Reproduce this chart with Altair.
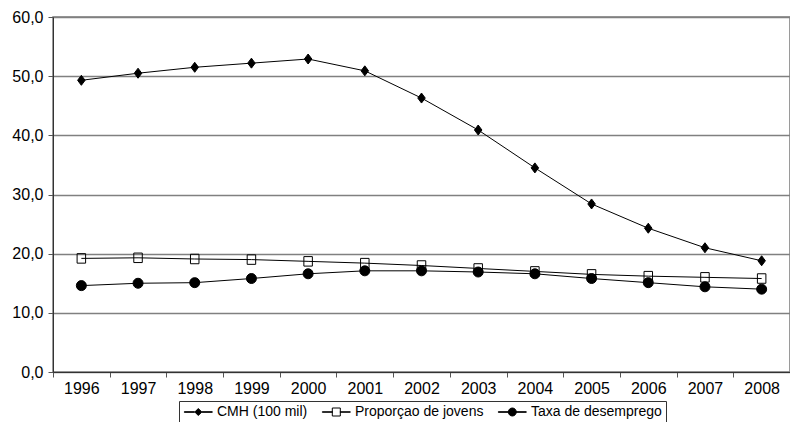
import altair as alt
import pandas as pd

years = ["1996", "1997", "1998", "1999", "2000", "2001", "2002", "2003", "2004", "2005", "2006", "2007", "2008"]
series_names = ["CMH (100 mil)", "Proporçao de jovens", "Taxa de desemprego"]
cmh = [49.3, 50.5, 51.5, 52.2, 52.9, 50.9, 46.3, 40.9, 34.5, 28.4, 24.3, 21.0, 18.8]
jovens = [19.2, 19.3, 19.1, 19.0, 18.7, 18.4, 18.0, 17.5, 17.0, 16.5, 16.2, 16.0, 15.8]
desemprego = [14.6, 15.0, 15.1, 15.8, 16.6, 17.1, 17.1, 16.9, 16.6, 15.8, 15.1, 14.4, 14.0]
y_ticks = [0, 10, 20, 30, 40, 50, 60]

rows = []
for name, vals in zip(series_names, [cmh, jovens, desemprego]):
    for yr, v in zip(years, vals):
        rows.append({"year": yr, "series": name, "value": v})
df = pd.DataFrame(rows)

FONT = "Liberation Sans"

marker_paths = [
    "M0,-1L0.75,0L0,1L-0.75,0Z",
    "M-0.85,-0.95L0.85,-0.95L0.85,0.95L-0.85,0.95Z",
    "circle",
]
marker_fills = ["black", "transparent", "black"]
marker_strokes = ["black", "black", "black"]

BAR_L = "M-1.14,-0.05L0.9,-0.05L0.9,0.05L-1.14,0.05Z"
BAR_R = "M2.42,-0.05L4.46,-0.05L4.46,0.05L2.42,0.05Z"
legend_paths = [
    BAR_L + BAR_R + "M1.66,-0.7L2.36,0L1.66,0.7L0.96,0Z",
    BAR_L + BAR_R + "M0.86,-0.8L2.46,-0.8L2.46,0.8L0.86,0.8Z",
    BAR_L + BAR_R + "M0.86,0A0.8,0.8 0 1,0 2.46,0A0.8,0.8 0 1,0 0.86,0Z",
]

x_enc = alt.X(
    "year:O",
    sort=years,
    title=None,
    scale=alt.Scale(type="band", paddingInner=0, paddingOuter=0),
    axis=alt.Axis(
        labelAngle=0,
        tickBand="extent",
        labelFont=FONT,
        labelFontSize=16,
        labelColor="black",
        labelPadding=3,
        tickSize=5,
        tickColor="#555555",
        domainColor="#333333",
        domainWidth=1,
        grid=False,
    ),
)
y_enc = alt.Y(
    "value:Q",
    title=None,
    scale=alt.Scale(domain=[0, 60], nice=False),
    axis=alt.Axis(
        values=y_ticks,
        labelExpr="replace(format(datum.value, '.1f'), '.', ',')",
        labelFont=FONT,
        labelFontSize=16,
        labelColor="black",
        labelPadding=5,
        tickSize=5,
        tickColor="#555555",
        domainColor="#333333",
        domainWidth=1,
        grid=True,
        gridColor="#808080",
        gridWidth=1.5,
    ),
)

lines = alt.Chart(df).mark_line(color="black", strokeWidth=1).encode(
    x=x_enc, y=y_enc, detail="series:N"
)

points = alt.Chart(df).mark_point(filled=True, stroke="black", strokeWidth=1, opacity=1).encode(
    x=x_enc,
    y=y_enc,
    shape=alt.Shape("series:N", scale=alt.Scale(domain=series_names, range=marker_paths), legend=None),
    fill=alt.Fill("series:N", scale=alt.Scale(domain=series_names, range=marker_fills), legend=None),
    size=alt.value(100),
)

leg = alt.Legend(
    title=None,
    orient="none",
    legendX=126,
    legendY=384,
    direction="horizontal",
    columns=3,
    symbolSize=100,
    symbolStrokeColor="black",
    symbolStrokeWidth=1,
    labelOffset=20,
    labelFont=FONT,
    labelFontSize=14,
    labelColor="black",
    columnPadding=12,
    padding=4,
    strokeColor="#333333",
    fillColor="white",
    labelLimit=300,
)

legend_layer = alt.Chart(df).transform_filter("false").transform_calculate(
    leg="datum.series"
).mark_point(filled=True, strokeWidth=1, opacity=1).encode(
    x=x_enc,
    y=y_enc,
    shape=alt.Shape("leg:N", scale=alt.Scale(domain=series_names, range=legend_paths), legend=leg),
    fill=alt.Fill("leg:N", scale=alt.Scale(domain=series_names, range=marker_fills), legend=leg),
    stroke=alt.Stroke("leg:N", scale=alt.Scale(domain=series_names, range=marker_strokes), legend=leg),
)

chart = (
    alt.layer(lines, points, legend_layer)
    .resolve_scale(shape="independent", fill="independent", stroke="independent")
    .properties(
        width=737,
        height=355,
        autosize=alt.AutoSizeParams(type="none"),
        padding={"left": 45, "top": 9, "right": 0, "bottom": 50},
        background="white",
    )
    .configure_view(stroke="#7a7a7a", strokeWidth=1.5)
)

chart.save("out.html", embed_options={"renderer": "svg", "actions": False})
